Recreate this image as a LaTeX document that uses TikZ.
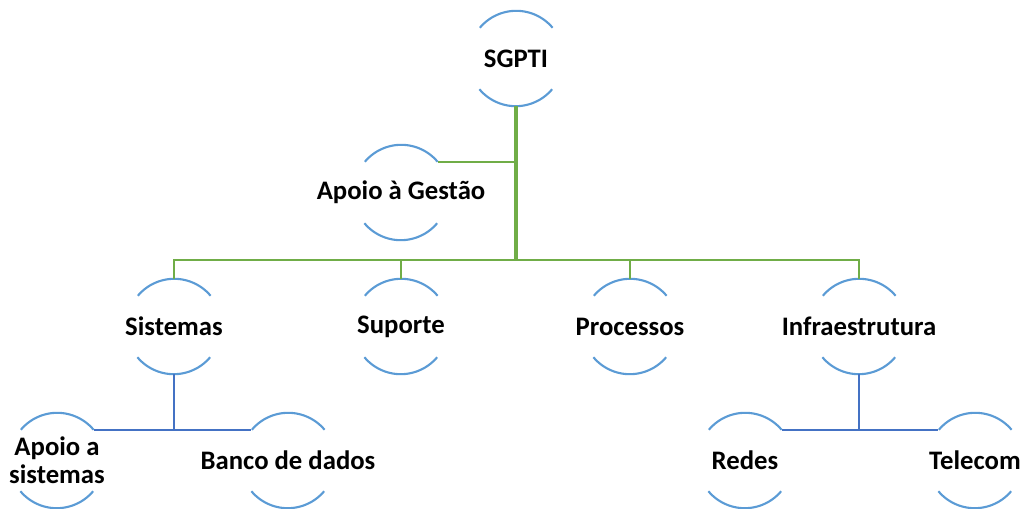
\documentclass[tikz,border=0pt]{standalone}
\usepackage{fontspec}
\setmainfont{Carlito}
\usepackage{tikz}
\usetikzlibrary{calc}

\definecolor{ringblue}{RGB}{91,155,213}
\definecolor{barblue}{RGB}{68,114,196}
\definecolor{bargreen}{RGB}{112,173,71}

\tikzset{
	unit/.style={circle, minimum size=2.375cm, inner sep=0pt},
	every label/.style={font=\bfseries\fontsize{19}{20}\selectfont, align=center, inner sep=0pt},
	ring/.style={ringblue, line width=1.5pt},
	trunk/.style={bargreen, line width=2.4pt},
	branch/.style={bargreen, line width=1.6pt},
	sub/.style={barblue, line width=1.8pt}
}

\begin{document}
\begin{tikzpicture}[x=0.025cm, y=0.025cm]
			\useasboundingbox (0,0) rectangle (1027,508);

			% first stage
			\node[unit, label=center:SGPTI] (sgpti) at (516,449.5) {};
			\node[unit, label=center:Apoio à Gestão] (gestao) at (401,315.5) {};

			% second stage
			\node[unit, label=center:Sistemas] (sistemas) at (174,181.5) {};
			\node[unit, label=center:Suporte] (suporte) at (401,181.5) {};
			\node[unit, label=center:Processos] (processos) at (630,181.5) {};
			\node[unit, label=center:Infraestrutura] (infra) at (859,181.5) {};

			% third stage
			\node[unit, label={center:Apoio a\\sistemas}] (apoiosis) at (57,47.5) {};
			\node[unit, label=center:Banco de dados] (banco) at (288,47.5) {};
			\node[unit, label=center:Redes] (redes) at (745,47.5) {};
			\node[unit, label=center:Telecom] (telecom) at (975,47.5) {};

			% rings
			\foreach \n in {sgpti,gestao,sistemas,suporte,processos,infra,apoiosis,banco,redes,telecom} {
				\draw[ring] (\n.40) arc[start angle=40, end angle=140, radius=1.1875cm];
				\draw[ring] (\n.220) arc[start angle=220, end angle=320, radius=1.1875cm];
			}

			% green bars
			\coordinate (bus) at (516,248);
			\draw[trunk] (sgpti.south) -- (bus);
			\draw[branch] (gestao.40) -- (gestao.40 -| sgpti.south);
			\draw[branch] (sistemas.north) |- (bus) -| (infra.north);
			\draw[branch] (suporte.north) -- (suporte.north |- bus);
			\draw[branch] (processos.north) -- (processos.north |- bus);

			% blue bars
			\draw[sub] (sistemas.south) -- (sistemas.south |- apoiosis.40);
			\draw[sub] (apoiosis.40) -- (banco.140);
			\draw[sub] (infra.south) -- (infra.south |- redes.40);
			\draw[sub] (redes.40) -- (telecom.140);

		\end{tikzpicture}
\end{document}
